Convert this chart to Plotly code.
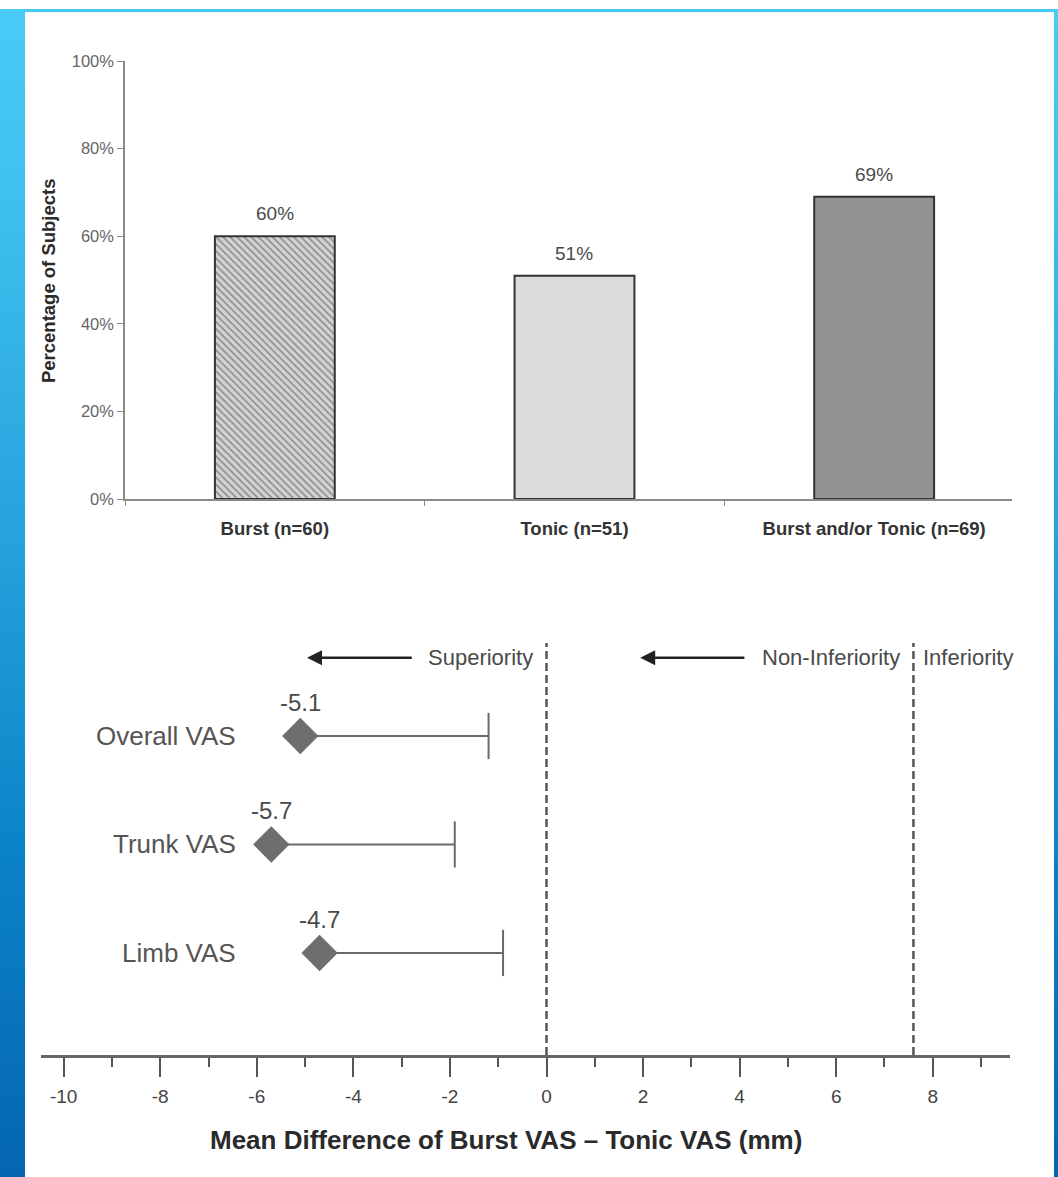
import base64
import plotly.graph_objects as go

# ---- upper panel: share of subjects ----
resp_groups = ["Burst (n=60)", "Tonic (n=51)", "Burst and/or Tonic (n=69)"]
resp_pct = [60, 51, 69]
pct_ticks = [0, 20, 40, 60, 80, 100]

# ---- lower panel: mean VAS difference (burst - tonic) and upper bound ----
vas_measures = ["Overall VAS", "Trunk VAS", "Limb VAS"]
vas_rows = [3, 2, 1]
vas_mean = [-5.1, -5.7, -4.7]
vas_upper = [-1.2, -1.9, -0.9]
margin_lines = [0, 7.6]
diff_ticks = [-10, -8, -6, -4, -2, 0, 2, 4, 6, 8]
diff_minor = [-9, -7, -5, -3, -1, 1, 3, 5, 7, 9]

# layout grid: target rows on a 1058x1177 frame; the page adds an 8px top
# offset and the frame is squeezed vertically by VS
PAGE_W, PAGE_H, TOP, VS = 1058, 1177, 8, 0.985
FW = PAGE_W
FH = round(PAGE_H / VS - TOP)
FONT = "Liberation Sans, Arial, Helvetica, sans-serif"


def fx(px):
    """frame column -> paper x fraction"""
    return px / FW


def frow(py):
    """frame row -> figure pixel row"""
    return py / VS - TOP


def fy(py):
    """frame row -> paper y fraction"""
    return 1 - frow(py) / FH


# slide backdrop: blue gradient with a white card
svg = f'''<svg xmlns="http://www.w3.org/2000/svg" width="{FW}" height="{FH}" viewBox="0 0 {FW} {FH}">
<defs><linearGradient id="g" x1="0" y1="0" x2="0" y2="1">
<stop offset="0" stop-color="#48cbf6"/>
<stop offset="0.15" stop-color="#40c1ef"/>
<stop offset="0.45" stop-color="#26a2dc"/>
<stop offset="0.72" stop-color="#0b83c8"/>
<stop offset="1" stop-color="#0565b0"/></linearGradient></defs>
<rect width="{FW}" height="{FH}" fill="url(#g)"/>
<rect x="25" y="{frow(11):.1f}" width="1029" height="{FH}" fill="#ffffff"/>
</svg>'''
bg_src = "data:image/svg+xml;base64," + base64.b64encode(svg.encode()).decode()

fig = go.Figure()

# bars
fig.add_trace(go.Bar(
    x=resp_groups, y=resp_pct, width=0.4,
    marker=dict(
        color=["#d2d2d4", "#dcdcde", "#939396"],
        line=dict(color="#333333", width=2),
        pattern=dict(shape=["\\", "", ""], fgcolor="#4a4a4a", size=5, solidity=0.32),
    ),
    xaxis="x", yaxis="y", showlegend=False, hoverinfo="skip",
))

# one-sided interval lines
seg_x, seg_y = [], []
for m, u, r in zip(vas_mean, vas_upper, vas_rows):
    seg_x += [m, u, None]
    seg_y += [r, r, None]
fig.add_trace(go.Scatter(
    x=seg_x, y=seg_y, mode="lines", line=dict(color="#6a6a6a", width=2),
    xaxis="x2", yaxis="y2", showlegend=False, hoverinfo="skip",
))
fig.add_trace(go.Scatter(
    x=vas_upper, y=vas_rows, mode="markers",
    marker=dict(symbol="line-ns", size=33, line=dict(color="#6a6a6a", width=2)),
    xaxis="x2", yaxis="y2", showlegend=False, hoverinfo="skip",
))
fig.add_trace(go.Scatter(
    x=vas_mean, y=vas_rows, mode="markers",
    marker=dict(symbol="diamond", size=28, color="#6e6e6e", line=dict(width=0)),
    xaxis="x2", yaxis="y2", showlegend=False, hoverinfo="skip",
))

annotations = []
# bar value labels
for g, v in zip(resp_groups, resp_pct):
    annotations.append(dict(
        x=g, y=v, xref="x", yref="y", text=f"{v}%", showarrow=False,
        yshift=22 / VS, font=dict(family=FONT, size=19, color="#4a4a4a"),
    ))
# y title of upper panel
annotations.append(dict(
    x=fx(48), y=fy(280), xref="paper", yref="paper", text="Percentage of Subjects",
    textangle=-90, showarrow=False, xanchor="center", yanchor="middle",
    font=dict(family=FONT, size=18.5, color="#2a2a2a", weight="bold"),
))
# measure labels and mean values
for name, m, r in zip(vas_measures, vas_mean, vas_rows):
    annotations.append(dict(
        x=fx(238), y=r, xref="paper", yref="y2", text=name, xanchor="right",
        yanchor="middle", showarrow=False,
        font=dict(family=FONT, size=26, color="#555555"),
    ))
    annotations.append(dict(
        x=m, y=r, xref="x2", yref="y2", text=f"{m}", showarrow=False,
        yshift=33 / VS, font=dict(family=FONT, size=24, color="#4a4a4a"),
    ))
# region labels with arrows
zone_font = dict(family=FONT, size=22, color="#4a4a4a")
arrow_y = 3.72
annotations += [
    dict(x=margin_lines[0], y=arrow_y, xref="x2", yref="y2", text="Superiority",
         xanchor="right", xshift=-12, showarrow=False, font=zone_font),
    dict(x=margin_lines[1], y=arrow_y, xref="x2", yref="y2", text="Non-Inferiority",
         xanchor="right", xshift=-11, showarrow=False, font=zone_font),
    dict(x=margin_lines[1], y=arrow_y, xref="x2", yref="y2", text="Inferiority",
         xanchor="left", xshift=8, showarrow=False, font=zone_font),
    dict(x=-4.96, y=arrow_y, xref="x2", yref="y2", ax=-2.76, ay=arrow_y,
         axref="x2", ayref="y2", text="", showarrow=True, arrowhead=2,
         arrowsize=1.2, arrowwidth=2.5, arrowcolor="#222222"),
    dict(x=1.94, y=arrow_y, xref="x2", yref="y2", ax=4.13, ay=arrow_y,
         axref="x2", ayref="y2", text="", showarrow=True, arrowhead=2,
         arrowsize=1.2, arrowwidth=2.5, arrowcolor="#222222"),
    dict(x=fx(506), y=fy(1139), xref="paper", yref="paper",
         xanchor="center", yanchor="middle",
         text="Mean Difference of Burst VAS \u2013 Tonic VAS (mm)", showarrow=False,
         font=dict(family=FONT, size=26, color="#2a2a2a", weight="bold")),
]

shapes = [
    dict(type="line", xref="x2", yref="y2 domain", x0=v, x1=v, y0=0, y1=1,
         line=dict(color="#555555", width=2.5, dash="8px,4px"))
    for v in margin_lines
]

fig.update_layout(
    width=FW, height=FH, autosize=False,
    margin=dict(l=0, r=0, t=0, b=0),
    paper_bgcolor="#ffffff", plot_bgcolor="rgba(0,0,0,0)",
    images=[dict(source=bg_src, xref="paper", yref="paper", x=0, y=1, sizex=1, sizey=1,
                 xanchor="left", yanchor="top", sizing="stretch", layer="below")],
    font=dict(family=FONT),
    xaxis=dict(
        domain=[fx(125), fx(1012)], anchor="y", type="category", range=[-0.5, 2.46],
        showline=True, linecolor="#8a8a8a", linewidth=1.5,
        ticks="outside", tickson="boundaries", ticklen=5, tickcolor="#8a8a8a",
        ticklabelstandoff=12,
        showgrid=False, zeroline=False,
        tickfont=dict(family=FONT, size=18.5, color="#333333", weight="bold"),
    ),
    yaxis=dict(
        domain=[fy(498), fy(60)], anchor="x", range=[0, 100],
        tickvals=pct_ticks, ticktext=[f"{v}%" for v in pct_ticks],
        showline=True, linecolor="#8a8a8a", linewidth=1.5,
        ticks="outside", ticklen=6, tickcolor="#8a8a8a",
        showgrid=False, zeroline=False,
        tickfont=dict(family=FONT, size=16.5, color="#666666"),
    ),
    xaxis2=dict(
        domain=[fx(41), fx(1010)], anchor="y2", range=[-10.47, 9.60],
        tickvals=diff_ticks, ticktext=[str(v) for v in diff_ticks],
        showline=True, linecolor="#666666", linewidth=3,
        ticks="outside", ticklen=19, tickwidth=2, tickcolor="#555555",
        ticklabelstandoff=3,
        minor=dict(tickvals=diff_minor, ticks="outside", ticklen=9, tickwidth=2,
                   tickcolor="#555555", showgrid=False),
        showgrid=False, zeroline=False,
        tickfont=dict(family=FONT, size=19, color="#444444"),
    ),
    yaxis2=dict(
        domain=[fy(1054), fy(642)], anchor="x2", range=[0.06, 3.857],
        visible=False, showgrid=False, zeroline=False,
    ),
    annotations=annotations,
    shapes=shapes,
)

fig.write_html("out.html")
